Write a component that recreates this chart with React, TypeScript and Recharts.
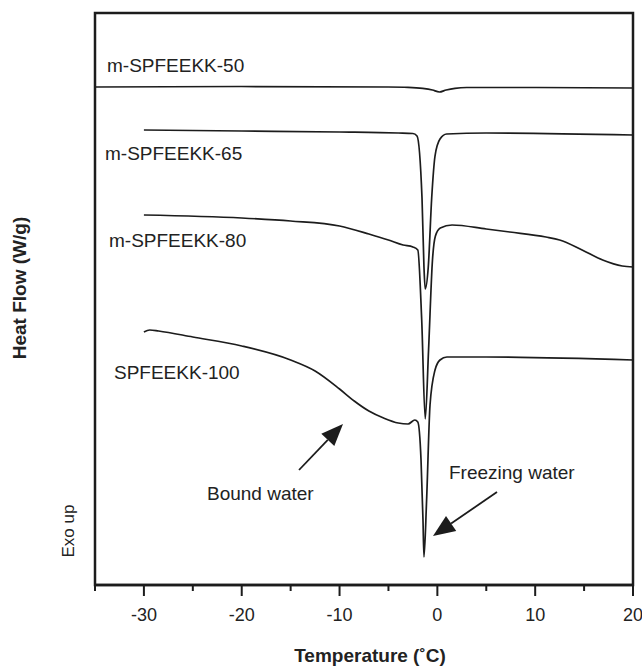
import { LineChart, Line, XAxis, YAxis, ReferenceArea } from "recharts";

// DSC traces, heat flow in arbitrary units (exo up)
const TEMP_50 = [-35, -20, -5, -3, -1.5, -0.5, 0.2, 0.9, 1.8, 3, 10, 20];
const FLOW_50 = [49.8, 49.85, 49.8, 49.77, 49.67, 49.5, 49.3, 49.5, 49.67, 49.75, 49.75, 49.7];

const TEMP_65 = [-30, -20, -10, -4, -2.5, -2.08, -1.57, -1.37, -1.24, -0.93, -0.58, -0.24, 0.27, 0.95, 5, 20];
const FLOW_65 = [45.5, 45.4, 45.3, 45.2, 45.15, 44.9, 38.7, 31.8, 29.6, 31.8, 38.7, 42.9, 44.6, 45.1, 45.2, 45.0];

const TEMP_80 = [-30, -20, -15, -10, -7, -5, -3.5, -2.5, -2.0, -1.6, -1.24, -0.9, -0.5, -0.2, 0.3, 1.5, 5, 7.4, 11.1, 12.5, 14.8, 16.9, 18.9, 20];
const FLOW_80 = [37.0, 36.7, 36.4, 35.9, 35.1, 34.5, 34.0, 33.8, 33.5, 26.5, 16.6, 23.5, 32.5, 34.9, 35.7, 36.0, 35.6, 35.3, 34.8, 34.5, 33.5, 32.5, 31.9, 31.8];

const TEMP_100 = [-30, -29.4, -28.5, -25, -20, -15, -12.5, -10, -8.5, -7, -5.5, -4, -3, -2.3, -2.0, -1.67, -1.47, -1.37, -1.1, -0.75, -0.24, 0.27, 0.98, 5, 20];
const FLOW_100 = [25.3, 25.5, 25.4, 24.8, 23.9, 22.5, 21.4, 19.6, 18.4, 17.4, 16.7, 16.2, 16.1, 16.5, 16.3, 12.5, 6.5, 2.8, 8.5, 18.0, 21.5, 22.5, 22.8, 22.8, 22.5];

const TEMP_TICKS = [-35, -30, -25, -20, -15, -10, -5, 0, 5, 10, 15, 20];

const INK = "#1c1c1c";
const FONT = "Arial, 'Liberation Sans', Helvetica, sans-serif";

const zip = (t: number[], f: number[]) => t.map((temp, i) => ({ temp, flow: f[i] }));

const series = [
  { name: "m-SPFEEKK-50", data: zip(TEMP_50, FLOW_50) },
  { name: "m-SPFEEKK-65", data: zip(TEMP_65, FLOW_65) },
  { name: "m-SPFEEKK-80", data: zip(TEMP_80, FLOW_80) },
  { name: "SPFEEKK-100", data: zip(TEMP_100, FLOW_100) },
];

function TempTick({ x, y, payload }: any) {
  const major = payload.value % 10 === 0;
  return (
    <g>
      <line x1={x} x2={x} y1={y} y2={y + (major ? 11 : 6)} stroke={INK} strokeWidth={2} />
      {major && (
        <text x={x} y={y + 36} textAnchor="middle" fontSize={18} fill="#222" fontFamily={FONT}>
          {payload.value}
        </text>
      )}
    </g>
  );
}

function Arrow({ from, to }: { from: [number, number]; to: [number, number] }) {
  const [x1, y1] = from;
  const [x2, y2] = to;
  const len = Math.hypot(x2 - x1, y2 - y1);
  const ux = (x2 - x1) / len;
  const uy = (y2 - y1) / len;
  const headL = 22;
  const headW = 9;
  const bx = x2 - ux * headL;
  const by = y2 - uy * headL;
  return (
    <g>
      <line x1={x1} y1={y1} x2={bx} y2={by} stroke={INK} strokeWidth={1.8} />
      <polygon
        points={`${x2},${y2} ${bx - uy * headW},${by + ux * headW} ${bx + uy * headW},${by - ux * headW}`}
        fill={INK}
      />
    </g>
  );
}

export default function App() {
  return (
    <div style={{ position: "absolute", left: 0, top: 0, width: 642, height: 668, background: "#fff" }}>
      <LineChart width={642} height={668} margin={{ top: 13, right: 9, left: 95, bottom: 43 }}>
        <XAxis
          type="number"
          dataKey="temp"
          domain={[-35, 20]}
          ticks={TEMP_TICKS}
          allowDataOverflow
          height={40}
          axisLine={{ stroke: INK, strokeWidth: 2.5 }}
          tickLine={false}
          tickSize={0}
          tickMargin={0}
          tick={<TempTick />}
        />
        <YAxis type="number" domain={[0, 57.2]} hide width={0} allowDataOverflow />
        <ReferenceArea
          x1={-35}
          x2={20}
          y1={0}
          y2={57.2}
          fill="none"
          fillOpacity={0}
          stroke={INK}
          strokeWidth={2.5}
          ifOverflow="visible"
        />
        {series.map((s) => (
          <Line
            key={s.name}
            data={s.data}
            dataKey="flow"
            name={s.name}
            type="monotone"
            stroke={INK}
            strokeWidth={1.7}
            dot={false}
            isAnimationActive={false}
          />
        ))}
      </LineChart>
      <svg
        width={642}
        height={668}
        style={{ position: "absolute", left: 0, top: 0, pointerEvents: "none" }}
        fontFamily={FONT}
        fill="#222"
      >
        <text x={107} y={72} fontSize={19}>m-SPFEEKK-50</text>
        <text x={105} y={160} fontSize={19}>m-SPFEEKK-65</text>
        <text x={109} y={247} fontSize={19}>m-SPFEEKK-80</text>
        <text x={114} y={379} fontSize={19}>SPFEEKK-100</text>
        <text x={207} y={500} fontSize={19}>Bound water</text>
        <text x={449} y={479} fontSize={19}>Freezing water</text>
        <Arrow from={[299, 470]} to={[343, 424]} />
        <Arrow from={[497, 492]} to={[433, 536]} />
        <text x={0} y={0} fontSize={17} textAnchor="middle" transform="translate(74 531) rotate(-90)">
          Exo up
        </text>
        <text
          x={0}
          y={0}
          fontSize={19}
          fontWeight="bold"
          textAnchor="middle"
          transform="translate(26 288) rotate(-90)"
        >
          Heat Flow (W/g)
        </text>
        <text x={370} y={662} fontSize={19} fontWeight="bold" textAnchor="middle">
          Temperature (˚C)
        </text>
      </svg>
    </div>
  );
}
